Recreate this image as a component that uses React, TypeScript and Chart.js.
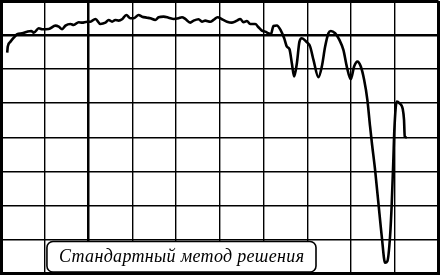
import React, { useEffect, useRef } from "react";
import { Chart, registerables } from "chart.js";

Chart.register(...registerables);

// Grid: 10 horizontal divisions (0..100), 8 vertical divisions (0..80)
const X_MIN = 0;
const X_MAX = 100;
const Y_MIN = 0;
const Y_MAX = 80;
const X_STEP = 10;
const Y_STEP = 10;
const X_THICK = 20;
const Y_THICK = 70;

const X_VALUES = [
  1.42, 1.55, 2.17, 2.92, 3.7, 4.84, 5.98, 6.89, 7.49, 8.63, 9.41, 10.91, 12.44, 13.2, 13.97, 14.73, 15.87, 16.62,
  17.76, 18.54, 19.68, 20.43, 21.58, 22.72, 23.86, 24.61, 25.39, 26.14, 26.89, 27.67, 28.65, 29.57, 30.32, 31.46,
  32.24, 33.38, 34.13, 35.27, 36.03, 37.17, 38.31, 39.45, 40.59, 41.37, 42.12, 43.26, 44.02, 45.16, 45.94, 46.69,
  47.83, 48.58, 49.5, 50.5, 51.64, 52.79, 53.93, 54.68, 55.43, 56.21, 56.96, 58.11, 58.86, 59.63, 60.39, 61.14,
  61.69, 62.28, 63.06, 63.97, 64.73, 65.34, 65.94, 66.48, 67.01, 67.63, 68.22, 68.77, 69.75, 70.66, 71.42, 72.56,
  73.33, 74.09, 74.84, 75.39, 76.37, 77.35, 78.26, 79.04, 79.95, 80.71, 81.46, 82.24, 83.0, 83.74, 84.36, 84.82,
  85.5, 86.26, 87.03, 87.79, 88.31, 88.93, 89.32, 89.68, 89.91, 90.46, 91.05, 91.83, 92.12, 92.28, 92.74,
];

const Y_VALUES = [
  64.85, 66.61, 68.07, 69.25, 70.24, 70.53, 71.0, 71.21, 70.71, 72.0, 71.71, 71.79, 72.76, 72.47, 71.71, 72.76, 73.26,
  72.97, 73.76, 73.64, 73.93, 73.93, 74.73, 73.26, 73.64, 74.43, 73.93, 74.43, 74.23, 74.64, 75.9, 74.93, 74.93,
  75.9, 75.4, 75.11, 74.93, 74.43, 75.22, 75.4, 75.11, 74.73, 74.93, 75.22, 74.73, 73.64, 74.23, 74.64, 73.93, 74.23,
  73.93, 74.43, 75.22, 74.64, 73.93, 73.64, 74.23, 74.73, 73.76, 74.14, 73.26, 73.26, 72.29, 71.3, 71.0, 70.53,
  70.24, 72.67, 72.82, 71.3, 69.07, 66.61, 65.85, 61.74, 57.82, 61.74, 68.07, 69.07, 68.07, 66.61, 62.71, 57.64,
  60.75, 66.61, 70.53, 71.21, 70.53, 68.57, 65.64, 60.75, 57.05, 60.75, 62.21, 60.75, 56.85, 50.99, 43.16, 37.8,
  30.48, 20.72, 10.93, 3.14, 3.6, 10.93, 20.72, 33.41, 42.2, 50.49, 50.02, 48.26, 45.13, 40.23, 39.94,
];

const LABEL_TEXT = "Стандартный метод решения";

const labelBoxPlugin = {
  id: "labelBox",
  afterDraw(chart: any) {
    const ctx = chart.ctx as CanvasRenderingContext2D;
    const xs = chart.scales.x;
    const ys = chart.scales.y;
    const x0 = xs.getPixelForValue(10.5);
    const x1 = xs.getPixelForValue(72.0);
    const y0 = ys.getPixelForValue(9.4);
    const y1 = chart.chartArea.bottom - 1.5;
    ctx.save();
    ctx.beginPath();
    (ctx as any).roundRect(x0, y0, x1 - x0, y1 - y0, 6);
    ctx.fillStyle = "#fff";
    ctx.fill();
    ctx.lineWidth = 1.6;
    ctx.strokeStyle = "#000";
    ctx.stroke();
    ctx.font = 'italic 18px "Liberation Serif"';
    ctx.fillStyle = "#000";
    ctx.textBaseline = "alphabetic";
    ctx.textAlign = "left";
    const target = 245;
    const w0 = ctx.measureText(LABEL_TEXT).width;
    const sp = (target - w0) / (LABEL_TEXT.length - 1);
    (ctx as any).letterSpacing = sp.toFixed(2) + "px";
    const cx = (x0 + x1) / 2;
    ctx.fillText(LABEL_TEXT, cx - target / 2, 261.5);
    ctx.restore();
  },
};

export default function App() {
  const ref = useRef<HTMLCanvasElement | null>(null);
  useEffect(() => {
    if (!ref.current) return;
    const points = X_VALUES.map((x, i) => ({ x, y: Y_VALUES[i] }));
    const gridWidth = (thick: number, lo: number, hi: number) => (c: any) => {
      const v = c.tick ? c.tick.value : NaN;
      if (v === lo || v === hi) return 3;
      if (v === thick) return 2.5;
      return 1.4;
    };
    const chart = new Chart(ref.current, {
      type: "line",
      data: {
        datasets: [
          {
            data: points,
            borderColor: "#000",
            borderWidth: 2.6,
            pointRadius: 0,
            fill: false,
            cubicInterpolationMode: "monotone",
          },
        ],
      },
      options: {
        animation: false,
        responsive: false,
        events: [],
        layout: { padding: { left: 1, top: 1, right: 1.5, bottom: 1.5 } },
        plugins: { legend: { display: false }, tooltip: { enabled: false }, title: { display: false } },
        scales: {
          x: {
            type: "linear",
            min: X_MIN,
            max: X_MAX,
            ticks: { display: false, stepSize: X_STEP },
            grid: { color: "#000", lineWidth: gridWidth(X_THICK, X_MIN, X_MAX), drawTicks: false },
            border: { display: true, color: "#000", width: 3 },
          },
          y: {
            type: "linear",
            min: Y_MIN,
            max: Y_MAX,
            ticks: { display: false, stepSize: Y_STEP },
            grid: { color: "#000", lineWidth: gridWidth(Y_THICK, Y_MIN, Y_MAX), drawTicks: false },
            border: { display: true, color: "#000", width: 3 },
          },
        },
      },
      plugins: [labelBoxPlugin],
    } as any);
    return () => chart.destroy();
  }, []);
  return (
    <div style={{ position: "fixed", left: 0, top: 0, width: 440, height: 275, background: "#fff" }}>
      <canvas ref={ref} width={440} height={275} style={{ display: "block", width: 440, height: 275 }} />
    </div>
  );
}
